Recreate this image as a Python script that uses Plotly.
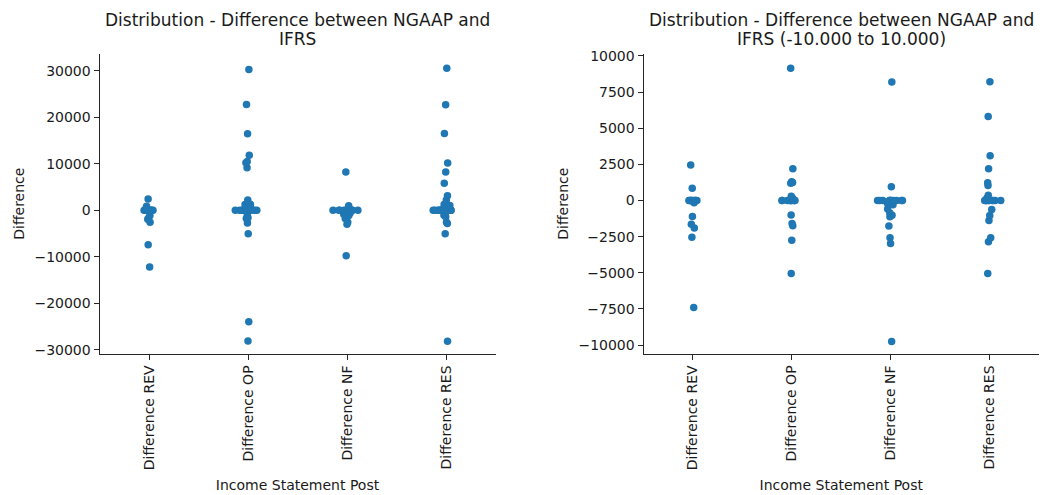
import plotly.graph_objects as go

categories = ["Difference REV", "Difference OP", "Difference NF", "Difference RES"]

diff_rev = [2450, 850, 0, 0, 0, 0, 0, 0, 0, 0, 0, 0, -150, -1100, -1650, -1900, -2550, -7400, -12200]
diff_op = [30250, 22750, 16450, 11800, 10500, 10200, 9150, 2200, 1290, 1250, 1200,
           300, 150, 0, 0, 0, 0, 0, 0, 0, 0, 0, 0, -1000, -1600, -1750, -2750, -5050, -23950, -28100]
diff_nf = [8200, 950, 0, 0, 0, 0, 0, 0, 0, 0, 0, 0, 0, 0, -100, -200, -300, -590, -860,
           -1020, -1130, -1760, -2580, -2980, -9760]
diff_res = [30500, 22700, 16500, 10150, 8220, 5810, 3100, 2200, 1220, 1040, 360, 150,
            0, 0, 0, 0, 0, 0, 0, 0, 0, 0, -630, -1040, -1380, -2580, -2850, -5060, -28150]

left_ticks = [-30000, -20000, -10000, 0, 10000, 20000, 30000]
right_ticks = [-10000, -7500, -5000, -2500, 0, 2500, 5000, 7500, 10000]

title_left = ["Distribution - Difference between NGAAP and", "IFRS"]
title_right = ["Distribution - Difference between NGAAP and", "IFRS (-10.000 to 10.000)"]
x_title = "Income Statement Post"
y_title = "Difference"

series = [diff_rev, diff_op, diff_nf, diff_res]

def flatten(limit=None):
    xs, ys = [], []
    for cat, vals in zip(categories, series):
        for v in vals:
            if limit is None or (-limit <= v <= limit):
                xs.append(cat)
                ys.append(v)
    return xs, ys

W, H = 1052, 495
BLUE = "#1f77b4"
FONT = "DejaVu Sans"
TXT = "#1a1a1a"

fig = go.Figure()

for (xa, ya, lim) in [("x", "y", None), ("x2", "y2", 10000)]:
    xs, ys = flatten(lim)
    fig.add_trace(go.Box(
        x=xs, y=ys, xaxis=xa, yaxis=ya,
        boxpoints="all", jitter=0.3, pointpos=0,
        fillcolor="rgba(0,0,0,0)", line=dict(width=0, color="rgba(0,0,0,0)"),
        whiskerwidth=0,
        marker=dict(color=BLUE, size=7.5, line=dict(width=0)),
        hoveron="points", showlegend=False,
    ))

ydom = [(H - 355) / H, (H - 48.5) / H]
axis_common = dict(
    showline=True, linecolor="#262626", linewidth=1, ticks="outside", ticklen=5,
    tickcolor="#262626", tickwidth=1, showgrid=False, zeroline=False,
    tickfont=dict(family=FONT, size=14, color=TXT),
)

def ypix_range(zero_px, per_unit_px):
    top = (zero_px - 48.5) / per_unit_px
    bot = (zero_px - 355) / per_unit_px
    return [bot, top]

annotations = []
for lines, cx in [(title_left, (99.5 + 495.5) / 2), (title_right, (643.5 + 1039) / 2)]:
    for line, cy in zip(lines, [14, 33.5]):
        annotations.append(dict(
            text=line, x=cx / W, y=1 - cy / H, xref="paper", yref="paper",
            xanchor="center", yanchor="middle", showarrow=False,
            font=dict(family=FONT, size=17, color=TXT)))

fig.update_layout(
    width=W, height=H,
    margin=dict(l=0, r=0, t=0, b=0),
    paper_bgcolor="white", plot_bgcolor="white",
    font=dict(family=FONT, size=14, color=TXT),
    boxgap=0, boxgroupgap=0,
    xaxis=dict(domain=[99.5 / W, 495.5 / W], type="category",
               categoryorder="array", categoryarray=categories,
               range=[-0.5, 3.5], tickangle=-90,
               title=dict(text=x_title, font=dict(family=FONT, size=14, color=TXT), standoff=10),
               anchor="y", **axis_common),
    yaxis=dict(domain=ydom, range=ypix_range(208.5, 47.5 / 10000),
               tickvals=left_ticks, tickformat="d",
               title=dict(text=y_title, font=dict(family=FONT, size=14, color=TXT), standoff=6),
               anchor="x", **axis_common),
    xaxis2=dict(domain=[643.5 / W, 1039 / W], type="category",
                categoryorder="array", categoryarray=categories,
                range=[-0.5, 3.5], tickangle=-90,
                title=dict(text=x_title, font=dict(family=FONT, size=14, color=TXT), standoff=10),
                anchor="y2", **axis_common),
    yaxis2=dict(domain=ydom, range=ypix_range(198.5, 14.75 / 1000),
                tickvals=right_ticks, tickformat="d",
                title=dict(text=y_title, font=dict(family=FONT, size=14, color=TXT), standoff=6),
                anchor="x2", **axis_common),
    annotations=annotations,
)

fig.write_html("out.html")
